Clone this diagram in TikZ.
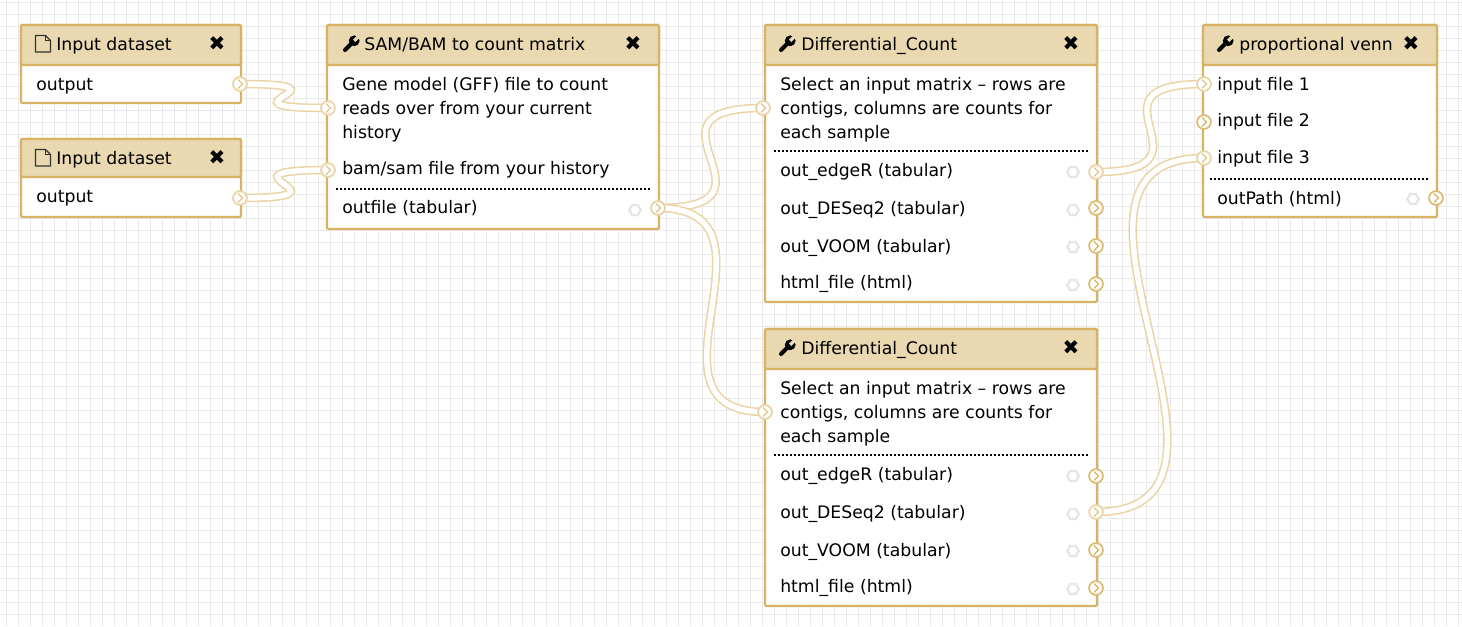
\documentclass[tikz,border=0pt]{standalone}
\usepackage{fontspec}
\setmainfont{DejaVu Sans}
\usetikzlibrary{calc}
\definecolor{bordertan}{HTML}{D8B365}
\definecolor{headertan}{HTML}{E9D8B0}
\definecolor{wiretan}{HTML}{EAD3A4}
\definecolor{gridgray}{HTML}{E9E9E9}
\definecolor{gearcol}{HTML}{E6E6E6}
\pgfdeclarelayer{gridlayer}
\pgfdeclarelayer{boxlayer}
\pgfdeclarelayer{wirelayer}
\pgfsetlayers{gridlayer,boxlayer,wirelayer,main}
\tikzset{
  x=0.75pt,y=-0.75pt,
  gridline/.style={draw=gridgray,line width=1.0pt},
  lbl/.style={anchor=base west,inner sep=0pt,font=\fontsize{12.95pt}{15pt}\selectfont,text=black},
  closex/.style={inner sep=0pt,font=\fontsize{15pt}{15pt}\selectfont,text=black},
  divider/.style={draw=black,line width=1.1pt,dash pattern=on 1.5pt off 1.5pt},
  wfborder/.style={draw=bordertan,line width=1.7pt,rounded corners=1pt,fill=white},
  wfhead/.style={draw=bordertan,line width=1.7pt,rounded corners=1pt,fill=headertan},
  portbase/.style={circle,fill=white,inner sep=0pt,minimum size=10.4pt,line width=1.3pt,
    path picture={\draw[line width=0.9pt,#1] (path picture bounding box.center) ++(-2,-4.5) -- ++(4.5,4.5) -- ++(-4.5,4.5);}},
  portfree/.style={portbase=bordertan,draw=bordertan!90},
  portlinked/.style={portbase=bordertan!75,draw=wiretan},
  wire/.style={draw=wiretan,line width=1.15pt,double=white,double distance=4.1pt},
  wrench/.pic={
    \draw[black,line width=3pt,line cap=round] (-6,6) -- (2.5,-2.5);
    \fill[black] (3.2,-3.2) circle (5.4);
    \draw[headertan,line width=2.6pt] (3.2,-3.2) -- (10,-10);
  },
  fileicon/.pic={
    \draw[black!80,line width=0.9pt,line join=round] (-7.5,-8.5) -- (2.5,-8.5) -- (7.5,-3.5) -- (7.5,8) -- (-7.5,8) -- cycle;
    \draw[black!80,line width=0.9pt] (2.5,-8.5) -- (2.5,-3.5) -- (7.5,-3.5);
  },
  gear/.pic={
    \draw[gearcol,line width=1.7pt,line join=round]
      (0:6) -- (30:4.8) -- (60:6) -- (90:4.8) -- (120:6) -- (150:4.8) -- (180:6)
      -- (210:4.8) -- (240:6) -- (270:4.8) -- (300:6) -- (330:4.8) -- cycle;
  },
}
\newcommand{\wfbox}[5]{%
  \begin{pgfonlayer}{boxlayer}
    \path[wfborder] (#1,#2) rectangle (#3,#5);
    \path[wfhead] (#1,#2) rectangle (#3,#4);
  \end{pgfonlayer}}
\newcommand{\wireconn}[3]{%
  \begin{pgfonlayer}{wirelayer}
    \draw[wire] (#1.center) .. controls ($(#1.center)+(#3,0)$) and ($(#2.center)-(#3,0)$) .. (#2.center);
  \end{pgfonlayer}}
\begin{document}
\begin{tikzpicture}
\useasboundingbox (0,0) rectangle (1462,626);
\begin{pgfonlayer}{gridlayer}
  \fill[white] (0,0) rectangle (1462,626);
  \foreach \i in {0,...,121} {\draw[gridline] ({6.5+12*\i},0) -- ({6.5+12*\i},626);}
  \foreach \j in {0,...,51} {\draw[gridline] (0,{2.7+12*\j}) -- (1462,{2.7+12*\j});}
\end{pgfonlayer}

% Input dataset 1
\wfbox{21}{25}{241}{65}{103}
\pic at (43,44) {fileicon};
\node[lbl] (t1) at (56,50) {Input dataset};
\node[closex] (x1) at (217,44) {✖};
\node[lbl] (o1) at (36,90) {output};
\node[portlinked] (pa) at (240,84) {};

% Input dataset 2
\wfbox{21}{139}{241}{177}{217}
\pic at (43,158) {fileicon};
\node[lbl] (t2) at (56,164) {Input dataset};
\node[closex] (x2) at (217,158) {✖};
\node[lbl] (o2) at (36,202) {output};
\node[portlinked] (pb) at (240,198) {};

% SAM/BAM
\wfbox{327}{25}{659}{65}{229}
\pic at (351,44) {wrench};
\node[lbl] (t3) at (364,50) {SAM/BAM to count matrix};
\node[closex] (x3) at (633,44) {✖};
\node[lbl] (s1) at (342,90) {Gene model (GFF) file to count};
\node[lbl] (s2) at (342,114) {reads over from your current};
\node[lbl] (s3) at (342,138) {history};
\node[lbl] (s4) at (342,174) {bam/sam file from your history};
\draw[divider] (336,189) -- (652,189);
\node[lbl] (s5) at (342,213) {outfile (tabular)};
\pic at (635,210) {gear};
\node[portlinked] (ca) at (328,108) {};
\node[portlinked] (cb) at (328,170) {};
\node[portlinked] (cout) at (658,208) {};

% Differential_Count 1
\wfbox{765}{25}{1097}{65}{302}
\pic at (787,44) {wrench};
\node[lbl] (t4) at (801,50) {Differential\_Count};
\node[closex] (x4) at (1071,44) {✖};
\node[lbl] (d1) at (780,90) {Select an input matrix – rows are};
\node[lbl] (d2) at (780,114) {contigs, columns are counts for};
\node[lbl] (d3) at (780,138) {each sample};
\draw[divider] (774,151) -- (1090,151);
\node[lbl] (d4) at (780,176) {out\_edgeR (tabular)};
\node[lbl] (d5) at (780,214) {out\_DESeq2 (tabular)};
\node[lbl] (d6) at (780,252) {out\_VOOM (tabular)};
\node[lbl] (d7) at (780,288) {html\_file (html)};
\pic at (1073,172) {gear};
\pic at (1073,210) {gear};
\pic at (1073,247) {gear};
\pic at (1073,285) {gear};
\node[portlinked] (da) at (763,108) {};
\node[portlinked] (de) at (1096,172) {};
\node[portfree] (df) at (1096,208) {};
\node[portfree] (dg) at (1096,246) {};
\node[portfree] (dh) at (1096,284) {};

% Differential_Count 2
\wfbox{765}{329}{1097}{369}{606}
\pic at (787,348) {wrench};
\node[lbl] (t5) at (801,354) {Differential\_Count};
\node[closex] (x5) at (1071,348) {✖};
\node[lbl] (e1) at (780,394) {Select an input matrix – rows are};
\node[lbl] (e2) at (780,418) {contigs, columns are counts for};
\node[lbl] (e3) at (780,442) {each sample};
\draw[divider] (774,455) -- (1090,455);
\node[lbl] (e4) at (780,480) {out\_edgeR (tabular)};
\node[lbl] (e5) at (780,518) {out\_DESeq2 (tabular)};
\node[lbl] (e6) at (780,556) {out\_VOOM (tabular)};
\node[lbl] (e7) at (780,592) {html\_file (html)};
\pic at (1073,476) {gear};
\pic at (1073,514) {gear};
\pic at (1073,551) {gear};
\pic at (1073,589) {gear};
\node[portlinked] (ea) at (765,412) {};
\node[portfree] (ee) at (1096,476) {};
\node[portlinked] (ef) at (1096,512) {};
\node[portfree] (eg) at (1096,550) {};
\node[portfree] (eh) at (1096,588) {};

% proportional venn
\wfbox{1203}{25}{1437}{65}{217}
\pic at (1225,44) {wrench};
\node[lbl] (t6) at (1239,50) {proportional venn};
\node[closex] (x6) at (1411,44) {✖};
\node[lbl] (v1) at (1217,90) {input file 1};
\node[lbl] (v2) at (1217,126) {input file 2};
\node[lbl] (v3) at (1217,163) {input file 3};
\draw[divider] (1210,179) -- (1429,179);
\node[lbl] (v4) at (1217,204) {outPath (html)};
\pic at (1413,199) {gear};
\node[portlinked] (va) at (1204,84) {};
\node[portfree] (vb) at (1204,122) {};
\node[portlinked] (vc) at (1204,158) {};
\node[portfree] (vo) at (1436,198) {};

% connectors
\wireconn{pa}{ca}{125}
\wireconn{pb}{cb}{125}
\wireconn{cout}{da}{137}
\wireconn{cout}{ea}{137}
\wireconn{de}{va}{130}
\wireconn{ef}{vc}{190}
\end{tikzpicture}
\end{document}
